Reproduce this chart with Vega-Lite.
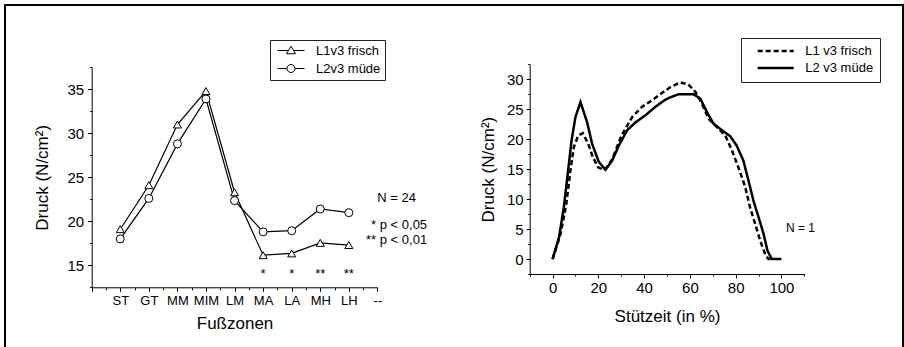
{
  "$schema": "https://vega.github.io/schema/vega-lite/v6.json",
  "width": 898,
  "height": 342,
  "autosize": {"type": "none"},
  "padding": {"left": 5, "top": 5, "right": 1, "bottom": 0},
  "background": "white",
  "config": {
    "font": "Liberation Sans",
    "view": {"stroke": "black", "strokeWidth": 2, "strokeDash": [1240, 898, 342]},
    "axis": {
      "grid": false,
      "domainColor": "black",
      "domainWidth": 1,
      "tickColor": "black",
      "tickWidth": 1,
      "labelColor": "black",
      "titleColor": "black",
      "labelFont": "Liberation Sans",
      "titleFont": "Liberation Sans",
      "titleFontWeight": "normal",
      "titleFontSize": 17,
      "labelOverlap": false,
      "labelFlush": false
    },
    "legend": {
      "labelFont": "Liberation Sans",
      "labelColor": "black",
      "labelFontSize": 13
    },
    "text": {"font": "Liberation Sans", "color": "black"}
  },
  "datasets": {
    "left": [
      {"zone": "ST", "pos": 1, "series": "L1v3 frisch", "value": 19.1},
      {"zone": "GT", "pos": 2, "series": "L1v3 frisch", "value": 24.1},
      {"zone": "MM", "pos": 3, "series": "L1v3 frisch", "value": 31.0},
      {"zone": "MIM", "pos": 4, "series": "L1v3 frisch", "value": 34.8},
      {"zone": "LM", "pos": 5, "series": "L1v3 frisch", "value": 23.3},
      {"zone": "MA", "pos": 6, "series": "L1v3 frisch", "value": 16.15},
      {"zone": "LA", "pos": 7, "series": "L1v3 frisch", "value": 16.35},
      {"zone": "MH", "pos": 8, "series": "L1v3 frisch", "value": 17.55},
      {"zone": "LH", "pos": 9, "series": "L1v3 frisch", "value": 17.3},
      {"zone": "ST", "pos": 1, "series": "L2v3 müde", "value": 18.0},
      {"zone": "GT", "pos": 2, "series": "L2v3 müde", "value": 22.6},
      {"zone": "MM", "pos": 3, "series": "L2v3 müde", "value": 28.8},
      {"zone": "MIM", "pos": 4, "series": "L2v3 müde", "value": 33.9},
      {"zone": "LM", "pos": 5, "series": "L2v3 müde", "value": 22.35},
      {"zone": "MA", "pos": 6, "series": "L2v3 müde", "value": 18.8},
      {"zone": "LA", "pos": 7, "series": "L2v3 müde", "value": 18.93},
      {"zone": "MH", "pos": 8, "series": "L2v3 müde", "value": 21.4},
      {"zone": "LH", "pos": 9, "series": "L2v3 müde", "value": 20.98}
    ],
    "leftNotes": [
      {"label": "N = 24", "pos": 11.35, "value": 22.61},
      {"label": "* p < 0,05", "pos": 11.74, "value": 19.58},
      {"label": "** p < 0,01", "pos": 11.74, "value": 17.875}
    ],
    "stars": [
      {"label": "*", "pos": 6, "value": 13.51},
      {"label": "*", "pos": 7, "value": 13.51},
      {"label": "**", "pos": 8, "value": 13.51},
      {"label": "**", "pos": 9, "value": 13.51}
    ],
    "right": [
      {"series": "L1 v3 frisch", "t": 0, "value": 0},
      {"series": "L1 v3 frisch", "t": 3.5, "value": 4.2},
      {"series": "L1 v3 frisch", "t": 6, "value": 9.2},
      {"series": "L1 v3 frisch", "t": 7.8, "value": 14.8},
      {"series": "L1 v3 frisch", "t": 9.3, "value": 18.7},
      {"series": "L1 v3 frisch", "t": 11.2, "value": 20.6},
      {"series": "L1 v3 frisch", "t": 13.2, "value": 21.0},
      {"series": "L1 v3 frisch", "t": 15.6, "value": 19.2},
      {"series": "L1 v3 frisch", "t": 17.6, "value": 17.0},
      {"series": "L1 v3 frisch", "t": 19.9, "value": 15.3},
      {"series": "L1 v3 frisch", "t": 21.7, "value": 15.0},
      {"series": "L1 v3 frisch", "t": 23.1, "value": 15.0},
      {"series": "L1 v3 frisch", "t": 26, "value": 16.6},
      {"series": "L1 v3 frisch", "t": 30.1, "value": 20.6},
      {"series": "L1 v3 frisch", "t": 34.8, "value": 23.7},
      {"series": "L1 v3 frisch", "t": 39.1, "value": 25.4},
      {"series": "L1 v3 frisch", "t": 43.5, "value": 26.5},
      {"series": "L1 v3 frisch", "t": 48.5, "value": 27.9},
      {"series": "L1 v3 frisch", "t": 51.5, "value": 28.7},
      {"series": "L1 v3 frisch", "t": 55.8, "value": 29.5},
      {"series": "L1 v3 frisch", "t": 59.4, "value": 29.1},
      {"series": "L1 v3 frisch", "t": 62.4, "value": 27.9},
      {"series": "L1 v3 frisch", "t": 65.3, "value": 25.9},
      {"series": "L1 v3 frisch", "t": 68.2, "value": 23.4},
      {"series": "L1 v3 frisch", "t": 71.8, "value": 22.0},
      {"series": "L1 v3 frisch", "t": 75.5, "value": 20.6},
      {"series": "L1 v3 frisch", "t": 78.4, "value": 18.1},
      {"series": "L1 v3 frisch", "t": 81.2, "value": 15.3},
      {"series": "L1 v3 frisch", "t": 84.2, "value": 12.0},
      {"series": "L1 v3 frisch", "t": 86.3, "value": 8.6},
      {"series": "L1 v3 frisch", "t": 88.5, "value": 5.9},
      {"series": "L1 v3 frisch", "t": 90.7, "value": 3.1},
      {"series": "L1 v3 frisch", "t": 92.9, "value": 0.8},
      {"series": "L1 v3 frisch", "t": 94.3, "value": 0},
      {"series": "L1 v3 frisch", "t": 96.5, "value": 0},
      {"series": "L2 v3 müde", "t": 0, "value": 0},
      {"series": "L2 v3 müde", "t": 2.8, "value": 3.6},
      {"series": "L2 v3 müde", "t": 4.9, "value": 8.6},
      {"series": "L2 v3 müde", "t": 6.8, "value": 14.8},
      {"series": "L2 v3 müde", "t": 8.3, "value": 19.8},
      {"series": "L2 v3 müde", "t": 10, "value": 23.7},
      {"series": "L2 v3 müde", "t": 12.2, "value": 26.2},
      {"series": "L2 v3 müde", "t": 15.1, "value": 22.8},
      {"series": "L2 v3 müde", "t": 17.3, "value": 19.2},
      {"series": "L2 v3 müde", "t": 20.2, "value": 16.2},
      {"series": "L2 v3 müde", "t": 23.1, "value": 14.9},
      {"series": "L2 v3 müde", "t": 26, "value": 16.4},
      {"series": "L2 v3 müde", "t": 28.9, "value": 18.9},
      {"series": "L2 v3 müde", "t": 32.6, "value": 21.5},
      {"series": "L2 v3 müde", "t": 36.2, "value": 22.8},
      {"series": "L2 v3 müde", "t": 40.6, "value": 24.0},
      {"series": "L2 v3 müde", "t": 44.9, "value": 25.4},
      {"series": "L2 v3 müde", "t": 49.3, "value": 26.6},
      {"series": "L2 v3 müde", "t": 51.5, "value": 27.0},
      {"series": "L2 v3 müde", "t": 55.1, "value": 27.5},
      {"series": "L2 v3 müde", "t": 61.6, "value": 27.5},
      {"series": "L2 v3 müde", "t": 64.5, "value": 26.8},
      {"series": "L2 v3 müde", "t": 67.5, "value": 24.5},
      {"series": "L2 v3 müde", "t": 70.3, "value": 22.6},
      {"series": "L2 v3 müde", "t": 74, "value": 21.5},
      {"series": "L2 v3 müde", "t": 77.6, "value": 20.5},
      {"series": "L2 v3 müde", "t": 80.5, "value": 18.9},
      {"series": "L2 v3 müde", "t": 83.4, "value": 16.4},
      {"series": "L2 v3 müde", "t": 85.6, "value": 13.1},
      {"series": "L2 v3 müde", "t": 87.8, "value": 9.7},
      {"series": "L2 v3 müde", "t": 90, "value": 7.0},
      {"series": "L2 v3 müde", "t": 92.2, "value": 4.2},
      {"series": "L2 v3 müde", "t": 93.9, "value": 1.4},
      {"series": "L2 v3 müde", "t": 95.8, "value": 0},
      {"series": "L2 v3 müde", "t": 100, "value": 0}
    ],
    "rightNotes": [
      {"label": "N = 1", "t": 102, "value": 5.1}
    ]
  },
  "layer": [
    {
      "layer": [
        {
          "data": {"name": "left"},
          "mark": {"type": "line", "color": "black", "strokeWidth": 1.2},
          "encoding": {
            "x": {
              "field": "pos", "type": "quantitative",
              "scale": {"domain": [0, 10], "range": [86.7, 372.4], "nice": false, "zero": false},
              "axis": {
                "orient": "bottom", "offset": -59.7, "title": "Fußzonen",
                "values": [0, 0.5, 1, 1.5, 2, 2.5, 3, 3.5, 4, 4.5, 5, 5.5, 6, 6.5, 7, 7.5, 8, 8.5, 9, 9.5, 10],
                "labelExpr": "datum.value % 1 == 0 && datum.value >= 1 ? ['', 'ST', 'GT', 'MM', 'MIM', 'LM', 'MA', 'LA', 'MH', 'LH', '--'][datum.value] : ''",
                "tickSize": {"condition": {"test": "datum.value % 1 == 0", "value": 4}, "value": 2.5},
                "labelFontSize": 13, "labelPadding": 3, "titlePadding": 8
              }
            },
            "y": {
              "field": "value", "type": "quantitative",
              "scale": {"domain": [12.5, 37.5], "range": [282.3, 62.3], "nice": false, "zero": false},
              "axis": {
                "orient": "left", "offset": -86.7, "title": "Druck (N/cm²)",
                "values": [15, 20, 25, 30, 35],
                "tickSize": 4,
                "labelFontSize": 15, "labelPadding": 4, "titlePadding": 16
              }
            },
            "detail": {"field": "series", "type": "nominal"}
          }
        },
        {
          "data": {"name": "left"},
          "mark": {"type": "point", "filled": true, "fill": "white", "stroke": "black", "strokeWidth": 1, "opacity": 1, "size": 64},
          "encoding": {
            "x": {"field": "pos", "type": "quantitative"},
            "y": {"field": "value", "type": "quantitative", "axis": null},
            "shape": {
              "field": "series", "type": "nominal",
              "scale": {"domain": ["L1v3 frisch", "L2v3 müde"], "range": ["triangle-up", "circle"]},
              "legend": null
            }
          }
        },
        {
          "data": {"name": "left"},
          "transform": [{"filter": "datum.value < 0"}],
          "mark": {"type": "point", "filled": false, "color": "black", "strokeWidth": 1},
          "encoding": {
            "x": {"field": "pos", "type": "quantitative"},
            "y": {
              "field": "value", "type": "quantitative",
              "axis": {
                "orient": "left", "offset": -86.7, "title": null, "labels": false, "domain": false,
                "values": [12.5, 17.5, 22.5, 27.5, 32.5, 37.5], "tickSize": 2
              }
            },
            "shape": {
              "field": "series", "type": "nominal",
              "scale": {
                "domain": ["L1v3 frisch", "L2v3 müde"],
                "range": [
                  "M-1,0L1.19,0M2.21,0L4.4,0M0.8,0.65L1.7,-0.85L2.6,0.65Z",
                  "M-1,0L0.9,0M2.5,0L4.4,0M2.5,0A0.8,0.8,0,1,1,0.9,0A0.8,0.8,0,1,1,2.5,0Z"
                ]
              },
              "legend": {
                "title": null, "orient": "none", "legendX": 265, "legendY": 35,
                "symbolSize": 100, "symbolOpacity": 1,
                "symbolStrokeColor": "black", "symbolStrokeWidth": 1, "symbolOffset": 2,
                "labelOffset": 27, "labelFontSize": 13, "labelExpr": "datum.label + '   '",
                "padding": 4, "rowPadding": 4, "strokeColor": "#222", "fillColor": "white"
              }
            }
          }
        },
        {
          "data": {"name": "stars"},
          "mark": {"type": "text", "fontSize": 13, "baseline": "alphabetic", "align": "center"},
          "encoding": {
            "x": {"field": "pos", "type": "quantitative"},
            "y": {"field": "value", "type": "quantitative", "axis": null},
            "text": {"field": "label"}
          }
        },
        {
          "data": {"name": "leftNotes"},
          "mark": {"type": "text", "fontSize": 13, "baseline": "middle", "align": "right"},
          "encoding": {
            "x": {"field": "pos", "type": "quantitative"},
            "y": {"field": "value", "type": "quantitative", "axis": null},
            "text": {"field": "label"}
          }
        }
      ],
      "resolve": {"scale": {"shape": "independent"}, "legend": {"shape": "independent"}, "axis": {"y": "independent"}}
    },
    {
      "layer": [
        {
          "data": {"name": "right"},
          "mark": {"type": "line", "color": "black", "strokeWidth": 2.5},
          "encoding": {
            "x": {
              "field": "t", "type": "quantitative",
              "scale": {"domain": [-10, 110], "range": [524.7, 799.3], "nice": false, "zero": false},
              "axis": {
                "orient": "bottom", "offset": -73, "title": "Stützeit (in %)",
                "values": [-10, 0, 10, 20, 30, 40, 50, 60, 70, 80, 90, 100, 110],
                "labelExpr": "datum.value % 20 == 0 && datum.value >= 0 && datum.value <= 100 ? datum.label : ''",
                "tickSize": {"condition": {"test": "datum.value % 20 == 0", "value": 4}, "value": 2},
                "labelFontSize": 15, "labelPadding": 2, "titlePadding": 13
              }
            },
            "y": {
              "field": "value", "type": "quantitative",
              "scale": {"domain": [-2.5, 32.5], "range": [269, 59.3], "nice": false, "zero": false},
              "axis": {
                "orient": "left", "offset": -524.7, "title": "Druck (N/cm²)",
                "values": [0, 5, 10, 15, 20, 25, 30],
                "tickSize": 3.5,
                "labelFontSize": 15, "labelPadding": 3, "titlePadding": 9
              }
            },
            "strokeDash": {
              "field": "series", "type": "nominal",
              "scale": {"domain": ["L1 v3 frisch", "L2 v3 müde"], "range": [[5, 3], [1, 0]]},
              "legend": {
                "title": null, "orient": "none", "legendX": 736, "legendY": 33,
                "symbolType": "M-1,0L13.4,0", "symbolSize": 25, "symbolStrokeWidth": 2.5,
                "symbolStrokeColor": "black", "symbolOffset": 6.2,
                "labelOffset": 38.5, "labelFontSize": 13, "labelExpr": "datum.label + '  '",
                "padding": 6.5, "rowPadding": 3, "strokeColor": "#222", "fillColor": "white"
              }
            }
          }
        },
        {
          "data": {"name": "rightNotes"},
          "mark": {"type": "text", "fontSize": 12, "baseline": "middle", "align": "left"},
          "encoding": {
            "x": {"field": "t", "type": "quantitative"},
            "y": {
              "field": "value", "type": "quantitative",
              "axis": {
                "orient": "left", "offset": -524.7, "title": null, "labels": false, "domain": false,
                "values": [-2.5, 2.5, 7.5, 12.5, 17.5, 22.5, 27.5, 32.5], "tickSize": 2
              }
            },
            "text": {"field": "label"}
          }
        }
      ],
      "resolve": {"axis": {"y": "independent"}}
    }
  ],
  "resolve": {
    "scale": {"x": "independent", "y": "independent"},
    "axis": {"x": "independent", "y": "independent"}
  }
}
